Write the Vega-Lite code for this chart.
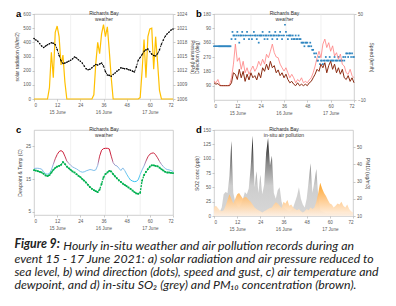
{
"$schema": "https://vega.github.io/schema/vega-lite/v6.json",
"background": "white",
"padding": {"left": 14, "top": 8, "right": 0, "bottom": 0},
"config": {
  "view": {"stroke": "#c4c4c4", "strokeWidth": 0.8},
  "axis": {"labelFont": "Liberation Sans", "labelFontSize": 4.6, "labelColor": "#595959", "titleFont": "Liberation Sans", "titleFontSize": 5, "titleFontWeight": "normal", "titleColor": "#404040", "tickColor": "#a6a6a6", "tickSize": 2, "tickWidth": 0.6, "domain": false, "grid": false, "labelPadding": 1.5, "titlePadding": 3},
  "title": {"font": "Liberation Sans"}
},
"datasets": {
  "wx": [
    {"t":0,"s":0,"p":1018.8,"T":18.2,"Td":17.7},{"t":1,"s":0,"p":1018.5,"T":18.3,"Td":17.6},{"t":2,"s":0,"p":1018.2,"T":18.3,"Td":17.4},{"t":3,"s":0,"p":1017.7,"T":18.2,"Td":17.2},{"t":4,"s":0,"p":1017.2,"T":18.0,"Td":17.0},{"t":5,"s":0,"p":1016.9,"T":17.2,"Td":16.6},{"t":6,"s":0,"p":1017.2,"T":16.6,"Td":16.1},{"t":7,"s":0,"p":1017.5,"T":16.5,"Td":15.9},{"t":8,"s":80,"p":1017.7,"T":16.7,"Td":16.2},{"t":9,"s":330,"p":1017.9,"T":17.8,"Td":17.0},
    {"t":10,"s":150,"p":1017.8,"T":19.5,"Td":17.8},{"t":11,"s":470,"p":1017.5,"T":21.2,"Td":18.4},{"t":12,"s":515,"p":1016.5,"T":22.5,"Td":18.8},{"t":13,"s":440,"p":1015.2,"T":23.4,"Td":19.0},{"t":14,"s":240,"p":1014.1,"T":23.7,"Td":19.3},{"t":15,"s":310,"p":1013.5,"T":23.3,"Td":20.2},{"t":16,"s":120,"p":1013.6,"T":22.0,"Td":19.6},{"t":17,"s":0,"p":1013.8,"T":20.5,"Td":18.8},{"t":18,"s":0,"p":1014.0,"T":19.8,"Td":18.3},{"t":19,"s":0,"p":1014.2,"T":19.2,"Td":17.8},
    {"t":20,"s":0,"p":1014.5,"T":18.7,"Td":17.3},{"t":21,"s":0,"p":1014.9,"T":18.4,"Td":17.0},{"t":22,"s":0,"p":1014.7,"T":18.1,"Td":16.5},{"t":23,"s":0,"p":1014.3,"T":17.7,"Td":16.0},{"t":24,"s":0,"p":1014.0,"T":17.3,"Td":15.6},{"t":25,"s":0,"p":1013.6,"T":17.1,"Td":15.0},{"t":26,"s":0,"p":1013.0,"T":17.2,"Td":14.5},{"t":27,"s":0,"p":1012.4,"T":17.5,"Td":13.9},{"t":28,"s":0,"p":1012.2,"T":17.7,"Td":13.2},{"t":29,"s":0,"p":1012.3,"T":17.9,"Td":12.5},
    {"t":30,"s":0,"p":1012.6,"T":17.8,"Td":12.0},{"t":31,"s":30,"p":1013.0,"T":17.6,"Td":11.6},{"t":32,"s":250,"p":1013.3,"T":17.8,"Td":11.3},{"t":33,"s":400,"p":1013.2,"T":19.2,"Td":11.0},{"t":34,"s":320,"p":1013.4,"T":22.0,"Td":11.8},{"t":35,"s":460,"p":1013.6,"T":23.8,"Td":13.5},{"t":36,"s":525,"p":1013.0,"T":24.3,"Td":15.5},{"t":37,"s":440,"p":1011.8,"T":24.4,"Td":16.5},{"t":38,"s":510,"p":1011.1,"T":24.4,"Td":17.0},{"t":39,"s":340,"p":1011.0,"T":24.2,"Td":17.5},
    {"t":40,"s":150,"p":1010.8,"T":22.0,"Td":17.3},{"t":41,"s":0,"p":1011.2,"T":20.0,"Td":16.5},{"t":42,"s":0,"p":1011.5,"T":19.2,"Td":15.8},{"t":43,"s":0,"p":1011.9,"T":19.0,"Td":15.2},{"t":44,"s":0,"p":1012.2,"T":18.3,"Td":14.6},{"t":45,"s":0,"p":1012.6,"T":17.6,"Td":14.1},{"t":46,"s":0,"p":1012.5,"T":18.4,"Td":13.6},{"t":47,"s":0,"p":1012.4,"T":17.6,"Td":13.2},{"t":48,"s":0,"p":1012.4,"T":16.5,"Td":12.8},{"t":49,"s":0,"p":1012.2,"T":15.5,"Td":12.4},
    {"t":50,"s":0,"p":1012.1,"T":14.7,"Td":12.0},{"t":51,"s":0,"p":1011.9,"T":14.4,"Td":11.5},{"t":52,"s":0,"p":1011.7,"T":14.2,"Td":11.0},{"t":53,"s":0,"p":1012.8,"T":14.3,"Td":10.6},{"t":54,"s":0,"p":1014.2,"T":14.8,"Td":10.5},{"t":55,"s":10,"p":1014.8,"T":16.4,"Td":10.8},{"t":56,"s":200,"p":1015.4,"T":17.8,"Td":14.5},{"t":57,"s":420,"p":1016.1,"T":19.0,"Td":16.2},{"t":58,"s":150,"p":1016.4,"T":20.5,"Td":17.2},{"t":59,"s":440,"p":1016.6,"T":21.8,"Td":18.0},
    {"t":60,"s":495,"p":1016.0,"T":22.6,"Td":18.8},{"t":61,"s":500,"p":1015.5,"T":22.9,"Td":19.2},{"t":62,"s":210,"p":1015.2,"T":23.0,"Td":19.2},{"t":63,"s":440,"p":1015.1,"T":22.4,"Td":19.0},{"t":64,"s":260,"p":1015.6,"T":21.5,"Td":18.9},{"t":65,"s":60,"p":1016.4,"T":20.4,"Td":18.5},{"t":66,"s":0,"p":1017.6,"T":19.5,"Td":18.0},{"t":67,"s":0,"p":1018.5,"T":18.8,"Td":17.6},{"t":68,"s":0,"p":1019.3,"T":18.2,"Td":17.2},{"t":69,"s":0,"p":1019.8,"T":17.9,"Td":17.0},
    {"t":70,"s":0,"p":1020.2,"T":17.8,"Td":17.0},{"t":71,"s":0,"p":1020.6,"T":17.6,"Td":16.9},{"t":72,"s":0,"p":1020.8,"T":17.3,"Td":16.8}
  ],
  "wind": [
    {"t":0,"spd":2,"gust":3.2},{"t":1,"spd":1,"gust":2},{"t":2,"spd":1.5,"gust":4.3},{"t":3,"spd":0,"gust":0.5},{"t":4,"spd":0,"gust":0},{"t":5,"spd":0,"gust":0},{"t":6,"spd":0,"gust":0},{"t":7,"spd":0,"gust":0},{"t":8,"spd":0,"gust":0.5},{"t":9,"spd":2,"gust":5.5},
    {"t":10,"spd":9,"gust":15},{"t":11,"spd":7.9,"gust":29},{"t":12,"spd":4.3,"gust":17},{"t":13,"spd":11.4,"gust":19.5},{"t":14,"spd":5.5,"gust":11.4},{"t":15,"spd":10,"gust":17},{"t":16,"spd":3,"gust":9},{"t":17,"spd":8,"gust":12.5},{"t":18,"spd":4,"gust":7.9},{"t":19,"spd":9,"gust":11},
    {"t":20,"spd":5.5,"gust":13.7},{"t":21,"spd":7,"gust":10},{"t":22,"spd":4,"gust":12.5},{"t":23,"spd":9,"gust":17},{"t":24,"spd":5.5,"gust":14},{"t":25,"spd":12.5,"gust":18.4},{"t":26,"spd":10,"gust":15},{"t":27,"spd":15,"gust":21.9},{"t":28,"spd":11,"gust":19.5},{"t":29,"spd":17,"gust":24},
    {"t":30,"spd":12.5,"gust":29},{"t":31,"spd":14,"gust":23},{"t":32,"spd":9,"gust":20},{"t":33,"spd":11,"gust":19.5},{"t":34,"spd":7,"gust":15},{"t":35,"spd":9,"gust":12.5},{"t":36,"spd":5.5,"gust":10.2},{"t":37,"spd":8,"gust":12.5},{"t":38,"spd":4.3,"gust":9},{"t":39,"spd":2,"gust":5.5},
    {"t":40,"spd":3,"gust":7.9},{"t":41,"spd":1,"gust":5.5},{"t":42,"spd":0,"gust":2},{"t":43,"spd":2,"gust":4.3},{"t":44,"spd":0,"gust":3},{"t":45,"spd":1,"gust":5.5},{"t":46,"spd":0,"gust":2},{"t":47,"spd":1,"gust":3},{"t":48,"spd":0,"gust":2},{"t":49,"spd":2,"gust":4},
    {"t":50,"spd":3,"gust":5.5},{"t":51,"spd":5.5,"gust":9},{"t":52,"spd":8,"gust":13.7},{"t":53,"spd":11.4,"gust":19.5},{"t":54,"spd":10,"gust":24},{"t":55,"spd":15,"gust":19.5},{"t":56,"spd":12.5,"gust":29},{"t":57,"spd":16,"gust":32.5},{"t":58,"spd":9,"gust":26.6},{"t":59,"spd":14,"gust":30},
    {"t":60,"spd":17,"gust":24},{"t":61,"spd":11.4,"gust":27.8},{"t":62,"spd":15,"gust":20.7},{"t":63,"spd":9,"gust":23},{"t":64,"spd":12.5,"gust":18.4},{"t":65,"spd":8,"gust":22},{"t":66,"spd":11.4,"gust":14.9},{"t":67,"spd":5.5,"gust":13.7},{"t":68,"spd":4.3,"gust":9},{"t":69,"spd":7,"gust":7.9},
    {"t":70,"spd":3,"gust":11.4},{"t":71,"spd":5.5,"gust":7},{"t":72,"spd":2,"gust":5.5}
  ],
  "dir": [
    {"t":0,"d":337.5},{"t":0.5,"d":337.5},{"t":1,"d":337.5},{"t":1.5,"d":337.5},{"t":2,"d":337.5},{"t":2.5,"d":337.5},{"t":3,"d":337.5},{"t":3.5,"d":337.5},{"t":4,"d":337.5},{"t":4.5,"d":337.5},{"t":5,"d":337.5},{"t":5.5,"d":337.5},{"t":6,"d":337.5},{"t":6.5,"d":337.5},{"t":7,"d":337.5},{"t":7.5,"d":337.5},{"t":8,"d":337.5},
    {"t":8.5,"d":337.5},{"t":9,"d":382.5},{"t":9.5,"d":427.5},{"t":10,"d":405},{"t":10.5,"d":405},{"t":11,"d":382.5},{"t":11.5,"d":405},{"t":12,"d":427.5},{"t":12.5,"d":405},{"t":13,"d":360},{"t":13.5,"d":405},{"t":14,"d":405},{"t":14.5,"d":427.5},{"t":15,"d":405},{"t":15.5,"d":382.5},{"t":16,"d":405},{"t":16.5,"d":405},{"t":17,"d":427.5},{"t":17.5,"d":405},{"t":18,"d":382.5},{"t":18.5,"d":405},{"t":19,"d":405},{"t":19.5,"d":382.5},{"t":20,"d":405},{"t":20.5,"d":427.5},{"t":21,"d":405},{"t":21.5,"d":405},{"t":22,"d":382.5},{"t":22.5,"d":405},{"t":23,"d":360},{"t":23.5,"d":405},{"t":24,"d":405},{"t":24.5,"d":405},{"t":25,"d":427.5},{"t":25.5,"d":405},{"t":26,"d":382.5},{"t":26.5,"d":405},{"t":27,"d":405},{"t":27.5,"d":382.5},{"t":28,"d":405},{"t":28.5,"d":427.5},{"t":29,"d":405},{"t":29.5,"d":405},{"t":30,"d":382.5},{"t":30.5,"d":405},{"t":31,"d":405},{"t":31.5,"d":427.5},{"t":32,"d":405},{"t":32.5,"d":382.5},{"t":33,"d":405},{"t":33.5,"d":405},{"t":34,"d":427.5},{"t":34.5,"d":405},{"t":35,"d":382.5},{"t":35.5,"d":405},{"t":36,"d":405},{"t":36.5,"d":472.5},{"t":37,"d":427.5},{"t":37.5,"d":405},{"t":38,"d":382.5},{"t":38.5,"d":405},{"t":39,"d":405},{"t":39.5,"d":405},{"t":40,"d":382.5},{"t":40.5,"d":405},{"t":41,"d":382.5},{"t":41.5,"d":382.5},{"t":42,"d":405},{"t":42.5,"d":382.5},{"t":43,"d":382.5},{"t":43.5,"d":405},{"t":44,"d":382.5},{"t":44.5,"d":382.5},{"t":45,"d":360},{"t":45.5,"d":360},{"t":46,"d":360},{"t":46.5,"d":337.5},{"t":47,"d":360},{"t":47.5,"d":360},{"t":48,"d":360},{"t":48.5,"d":337.5},{"t":49,"d":337.5},{"t":49.5,"d":360},{"t":50,"d":337.5},{"t":50.5,"d":315},{"t":51,"d":315},{"t":51.5,"d":292.5},{"t":52,"d":270},{"t":52.5,"d":292.5},{"t":53,"d":247.5},{"t":53.5,"d":247.5},{"t":54,"d":270},{"t":54.5,"d":225},{"t":55,"d":247.5},{"t":55.5,"d":247.5},{"t":56,"d":225},{"t":56.5,"d":247.5},{"t":57,"d":247.5},{"t":57.5,"d":270},{"t":58,"d":247.5},{"t":58.5,"d":247.5},{"t":59,"d":247.5},{"t":59.5,"d":270},{"t":60,"d":247.5},{"t":60.5,"d":247.5},{"t":61,"d":247.5},{"t":61.5,"d":247.5},{"t":62,"d":270},{"t":62.5,"d":247.5},{"t":63,"d":247.5},{"t":63.5,"d":247.5},{"t":64,"d":270},{"t":64.5,"d":247.5},{"t":65,"d":247.5},{"t":65.5,"d":247.5},{"t":66,"d":247.5},{"t":66.5,"d":270},{"t":67,"d":247.5},{"t":67.5,"d":270},{"t":68,"d":292.5},{"t":68.5,"d":292.5},{"t":69,"d":270},{"t":69.5,"d":292.5},{"t":70,"d":292.5},{"t":70.5,"d":270},{"t":71,"d":292.5},{"t":71.5,"d":270},{"t":72,"d":270}
  ],
  "poll": [
    {"t":0,"so2":10,"pm":15},{"t":1,"so2":12,"pm":16},{"t":2,"so2":10,"pm":14.7},{"t":3,"so2":8,"pm":13.3},{"t":4,"so2":15,"pm":12.7},{"t":5,"so2":38,"pm":13.3},{"t":6,"so2":42,"pm":16},{"t":7,"so2":40,"pm":19.3},{"t":8,"so2":70,"pm":22.7},{"t":9,"so2":131,"pm":20},
    {"t":10,"so2":40,"pm":17.3},{"t":11,"so2":25,"pm":20},{"t":12,"so2":18,"pm":22.7},{"t":13,"so2":15,"pm":23.3},{"t":14,"so2":20,"pm":21.7},{"t":15,"so2":30,"pm":20},{"t":16,"so2":42,"pm":21},{"t":17,"so2":38,"pm":20.7},{"t":18,"so2":48,"pm":19.3},{"t":19,"so2":85,"pm":18.3},
    {"t":20,"so2":140,"pm":16.7},{"t":21,"so2":50,"pm":15},{"t":22,"so2":78,"pm":14},{"t":23,"so2":40,"pm":13.3},{"t":24,"so2":72,"pm":12.7},{"t":25,"so2":38,"pm":12},{"t":26,"so2":55,"pm":12.7},{"t":27,"so2":110,"pm":13.3},{"t":28,"so2":136,"pm":14},{"t":29,"so2":88,"pm":14.7},
    {"t":30,"so2":105,"pm":15},{"t":31,"so2":40,"pm":16.7},{"t":32,"so2":30,"pm":18},{"t":33,"so2":45,"pm":17.3},{"t":34,"so2":50,"pm":16},{"t":35,"so2":25,"pm":14.7},{"t":36,"so2":15,"pm":18.3},{"t":37,"so2":12,"pm":17.3},{"t":38,"so2":10,"pm":19.3},{"t":39,"so2":8,"pm":16},
    {"t":40,"so2":10,"pm":16.7},{"t":41,"so2":15,"pm":15},{"t":42,"so2":25,"pm":14},{"t":43,"so2":35,"pm":13.3},{"t":44,"so2":50,"pm":14},{"t":45,"so2":30,"pm":12.7},{"t":46,"so2":20,"pm":12},{"t":47,"so2":15,"pm":12.7},{"t":48,"so2":30,"pm":14},{"t":49,"so2":60,"pm":13.3},
    {"t":50,"so2":92,"pm":15},{"t":51,"so2":40,"pm":14},{"t":52,"so2":60,"pm":15},{"t":53,"so2":82,"pm":18.3},{"t":54,"so2":35,"pm":23.3},{"t":55,"so2":10,"pm":29.3},{"t":56,"so2":8,"pm":26},{"t":57,"so2":6,"pm":23.3},{"t":58,"so2":5,"pm":21.7},{"t":59,"so2":5,"pm":19.3},
    {"t":60,"so2":5,"pm":17.3},{"t":61,"so2":5,"pm":16.7},{"t":62,"so2":5,"pm":15},{"t":63,"so2":5,"pm":16},{"t":64,"so2":5,"pm":17.3},{"t":65,"so2":5,"pm":16.7},{"t":66,"so2":5,"pm":18.3},{"t":67,"so2":5,"pm":16},{"t":68,"so2":5,"pm":15},{"t":69,"so2":5,"pm":16.7},
    {"t":70,"so2":5,"pm":14},{"t":71,"so2":5,"pm":12.7},{"t":72,"so2":5,"pm":12}
  ],
  "grid": [{"g":19},{"g":37},{"g":55}]
},
"title": {
  "text": "Figure 9:",
  "subtitle": ["\u200c\u00a0\u00a0\u00a0\u00a0\u00a0\u00a0\u00a0\u00a0\u00a0\u00a0\u00a0\u00a0\u00a0\u00a0\u00a0\u00a0\u00a0Hourly in-situ weather and air pollution records during an", "event 15 - 17 June 2021: a) solar radiation and air pressure reduced to", "sea level, b) wind direction (dots), speed and gust, c) air temperature and", "dewpoint, and d) in-situ SO\u2082 (grey) and PM\u2081\u2080 concentration (brown)."],
  "orient": "bottom", "anchor": "start", "frame": "bounds", "offset": 7,
  "font": "Lato", "fontSize": 12.3, "fontStyle": "italic", "fontWeight": "bold", "color": "#222222",
  "subtitleFont": "Lato", "subtitleFontSize": 12.3, "subtitleFontStyle": "italic", "subtitleFontWeight": "normal", "subtitleColor": "#222222", "subtitleLineHeight": 13, "subtitlePadding": -10
},
"columns": 2,
"spacing": {"row": 30, "column": 41},
"bounds": "flush",
"concat": [
  {"width": 139, "height": 85,
   "title": {"text": "a", "anchor": "start", "frame": "group", "dx": -18, "offset": -8, "fontSize": 9.5, "fontWeight": "bold", "color": "#000000"},
   "layer": [
    {"data": {"name": "grid"}, "mark": {"type": "rule", "stroke": "#e6e6e6", "strokeWidth": 0.6},
     "encoding": {"x": {"field": "g", "type": "quantitative", "scale": {"domain": [0, 72], "nice": false},
       "axis": {"orient": "top", "labels": false, "ticks": false, "domain": false, "title": ["Richards Bay", "weather"], "titleY": -4, "titleBaseline": "top", "titleLineHeight": 6, "titleFontSize": 5, "titleColor": "#333333"}}}},
    {"data": {"name": "wx"}, "mark": {"type": "line", "stroke": "#FFC000", "strokeWidth": 1.2},
     "encoding": {"x": {"field": "t", "type": "quantitative", "axis": {"orient": "bottom", "values": [0,12,24,36,48,60,72], "title": null, "labelLineHeight": 6.5, "labelExpr": "datum.value==12?['12','15 June']:datum.value==36?['36','16 June']:datum.value==60?['60','17 June']:datum.label"}},
       "y": {"field": "s", "type": "quantitative", "scale": {"domain": [0, 600]}, "axis": {"orient": "left", "values": [0,100,200,300,400,500,600], "title": "solar radiation (W/m2)"}}}},
    {"data": {"name": "wx"}, "mark": {"type": "line", "stroke": "#000000", "strokeWidth": 0.9, "strokeDash": [2, 1.2], "point": {"filled": true, "fill": "#000000", "size": 2.5}},
     "encoding": {"x": {"field": "t", "type": "quantitative", "axis": null},
       "y": {"field": "p", "type": "quantitative", "scale": {"domain": [1006, 1024]}, "axis": {"orient": "right", "values": [1006,1009,1012,1015,1018,1021,1024], "format": "d", "title": "Pressure (hPa)"}}}}
   ],
   "resolve": {"scale": {"y": "independent"}, "axis": {"x": "independent"}}
  },
  {"width": 140, "height": 86,
   "title": {"text": "b", "anchor": "start", "frame": "group", "dx": -18, "offset": -8, "fontSize": 9.5, "fontWeight": "bold", "color": "#000000"},
   "layer": [
    {"data": {"name": "grid"}, "mark": {"type": "rule", "stroke": "#e6e6e6", "strokeWidth": 0.6},
     "encoding": {"x": {"field": "g", "type": "quantitative", "scale": {"domain": [0, 72], "nice": false},
       "axis": {"orient": "top", "labels": false, "ticks": false, "domain": false, "title": ["Richards Bay", "weather"], "titleY": -4, "titleBaseline": "top", "titleLineHeight": 6, "titleFontSize": 5, "titleColor": "#333333"}}}},
    {"data": {"name": "dir"}, "mark": {"type": "square", "color": "#2f86c0", "size": 3, "opacity": 1},
     "encoding": {"x": {"field": "t", "type": "quantitative", "axis": {"orient": "bottom", "values": [0,12,24,36,48,60,72], "title": null, "labelLineHeight": 6.5, "labelExpr": "datum.value==12?['12','15 June']:datum.value==36?['36','16 June']:datum.value==60?['60','17 June']:datum.label"}},
       "y": {"field": "d", "type": "quantitative", "scale": {"domain": [0, 540]}, "axis": {"orient": "left", "values": [90,180,270,360,450,540], "labelExpr": "datum.value>360?''+(datum.value-360):datum.label", "title": "Direction (deg)"}}}},
    {"data": {"name": "wind"},
     "layer": [
      {"mark": {"type": "line", "stroke": "#ff7f7f", "strokeWidth": 0.8},
       "encoding": {"x": {"field": "t", "type": "quantitative", "axis": null},
         "y": {"field": "gust", "type": "quantitative", "scale": {"domain": [-10, 50]}, "axis": {"orient": "right", "values": [-10,0,10,20,30,40,50], "title": "Speed (km/h)"}}}},
      {"mark": {"type": "line", "stroke": "#8b2a10", "strokeWidth": 1},
       "encoding": {"x": {"field": "t", "type": "quantitative", "axis": null},
         "y": {"field": "spd", "type": "quantitative"}}}
     ]}
   ],
   "resolve": {"scale": {"y": "independent"}, "axis": {"x": "independent"}}
  },
  {"width": 139, "height": 85,
   "title": {"text": "c", "anchor": "start", "frame": "group", "dx": -18, "offset": -8, "fontSize": 9.5, "fontWeight": "bold", "color": "#000000"},
   "layer": [
    {"data": {"name": "grid"}, "mark": {"type": "rule", "stroke": "#e6e6e6", "strokeWidth": 0.6},
     "encoding": {"x": {"field": "g", "type": "quantitative", "scale": {"domain": [0, 72], "nice": false},
       "axis": {"orient": "top", "labels": false, "ticks": false, "domain": false, "title": ["Richards Bay", "weather"], "titleY": -4, "titleBaseline": "top", "titleLineHeight": 6, "titleFontSize": 5, "titleColor": "#333333"}}}},
    {"data": {"name": "wx"}, "mark": {"type": "line", "strokeWidth": 1, "stroke": {"gradient": "linear", "x1": 0, "y1": 0, "x2": 0, "y2": 1, "stops": [{"offset": 0, "color": "#d0102e"}, {"offset": 0.3, "color": "#c83a52"}, {"offset": 0.45, "color": "#a58cbc"}, {"offset": 0.56, "color": "#8cb8e6"}, {"offset": 0.8, "color": "#66c8f0"}, {"offset": 1, "color": "#2ec0f0"}]}},
     "encoding": {"x": {"field": "t", "type": "quantitative", "axis": {"orient": "bottom", "values": [0,12,24,36,48,60,72], "title": null, "labelLineHeight": 6.5, "labelExpr": "datum.value==12?['12','15 June']:datum.value==36?['36','16 June']:datum.value==60?['60','17 June']:datum.label"}},
       "y": {"field": "T", "type": "quantitative", "scale": {"domain": [5, 30]}, "axis": {"orient": "left", "values": [5,10,15,20,25,30], "title": "Dewpoint & Temp (C)"}}}},
    {"data": {"name": "wx"}, "mark": {"type": "line", "stroke": "#00b050", "strokeWidth": 1.3, "strokeDash": [2, 1], "point": {"filled": true, "fill": "#00b050", "size": 3, "shape": "square"}},
     "encoding": {"x": {"field": "t", "type": "quantitative", "axis": null},
       "y": {"field": "Td", "type": "quantitative"}}}
   ],
   "resolve": {"axis": {"x": "independent"}}
  },
  {"width": 139, "height": 86,
   "title": {"text": "d", "anchor": "start", "frame": "group", "dx": -18, "offset": -8, "fontSize": 9.5, "fontWeight": "bold", "color": "#000000"},
   "layer": [
    {"data": {"name": "grid"}, "mark": {"type": "rule", "strokeOpacity": 0},
     "encoding": {"x": {"field": "g", "type": "quantitative", "scale": {"domain": [0, 72], "nice": false},
       "axis": {"orient": "top", "labels": false, "ticks": false, "domain": false, "title": ["Richards Bay", "in-situ air pollution"], "titleY": -4, "titleBaseline": "top", "titleLineHeight": 6, "titleFontSize": 5, "titleColor": "#333333"}}}},
    {"data": {"name": "poll"}, "mark": {"type": "area", "line": false, "fill": {"gradient": "linear", "x1": 0, "y1": 0, "x2": 0, "y2": 1, "stops": [{"offset": 0, "color": "#0a0a0a"}, {"offset": 0.35, "color": "#8a8a8a"}, {"offset": 0.62, "color": "#cdcdcd"}, {"offset": 1, "color": "#d8d8d8"}]}},
     "encoding": {"x": {"field": "t", "type": "quantitative", "axis": {"orient": "bottom", "values": [0,12,24,36,48,60,72], "title": null, "labelLineHeight": 6.5, "labelExpr": "datum.value==12?['12','15 June']:datum.value==36?['36','16 June']:datum.value==60?['60','17 June']:datum.label"}},
       "y": {"field": "so2", "type": "quantitative", "scale": {"domain": [0, 150]}, "axis": {"orient": "left", "values": [0,25,50,75,100,125,150], "title": "SO2 conc (ppb)"}}}},
    {"data": {"name": "poll"}, "mark": {"type": "area", "opacity": 0.92, "fill": {"gradient": "linear", "x1": 0, "y1": 0, "x2": 0, "y2": 1, "stops": [{"offset": 0, "color": "#ff9c10"}, {"offset": 0.45, "color": "#ffc27a"}, {"offset": 1, "color": "#fff1e4"}]}},
     "encoding": {"x": {"field": "t", "type": "quantitative", "axis": null},
       "y": {"field": "pm", "type": "quantitative", "scale": {"domain": [10, 60]}, "axis": {"orient": "right", "values": [10,20,30,40,50], "title": "PM10 (ug/m3)"}},
       "y2": {"datum": 10}}}
   ],
   "resolve": {"scale": {"y": "independent"}, "axis": {"x": "independent"}}
  }
]
}
